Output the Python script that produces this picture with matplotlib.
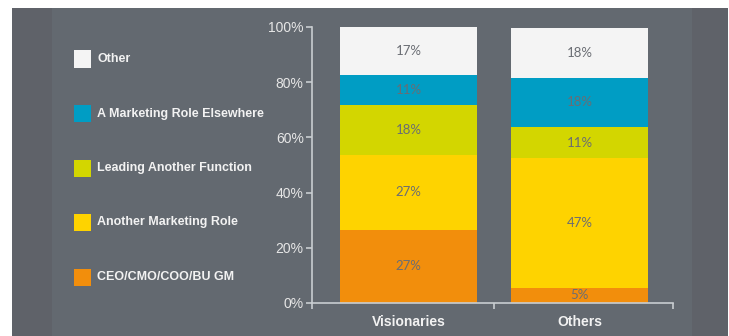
import matplotlib.pyplot as plt
from matplotlib.patches import Rectangle

# data
groups = ['Visionaries', 'Others']
roles = ['CEO/CMO/COO/BU GM', 'Another Marketing Role', 'Leading Another Function',
         'A Marketing Role Elsewhere', 'Other']
ceo = [26.6, 5.5]
another_mkt = [27.1, 47.0]
leading = [18.1, 11.3]
elsewhere = [10.9, 17.7]
other = [17.3, 18.1]
labels = [['27%', '5%'], ['27%', '47%'], ['18%', '11%'], ['11%', '18%'], ['17%', '18%']]
colors = ['#f28e0c', '#fed300', '#d3d600', '#009dc4', '#f4f4f4']
yticks = [0, 20, 40, 60, 80, 100]

W, H = 729, 336
fig = plt.figure(figsize=(W / 100, H / 100), dpi=100, facecolor='white')
plt.rcParams['font.family'] = ['Liberation Sans', 'DejaVu Sans']

# gray panel background
def px_rect(x0, y0, x1, y1, color):
    fig.add_artist(Rectangle((x0 / W, 1 - y1 / H), (x1 - x0) / W, (y1 - y0) / H,
                             transform=fig.transFigure, facecolor=color,
                             edgecolor='none', zorder=0))

px_rect(12, 8, 728, 336, '#5f6269')
px_rect(52, 8, 692, 336, '#636970')

ax = fig.add_axes([312 / W, 1 - 303 / H, (673 - 312) / W, (303 - 27) / H])
ax.patch.set_alpha(0)

series = [ceo, another_mkt, leading, elsewhere, other]
bottom = [0, 0]
x = list(range(len(groups)))
for vals, col, labs in zip(series, colors, labels):
    ax.bar(x, vals, 0.8, bottom=bottom, color=col, edgecolor='none', zorder=2)
    for i in x:
        ax.text(i, bottom[i] + vals[i] / 2, labs[i], ha='center', va='center',
                fontsize=9.5, color='#6a6d73', family=['Lato', 'DejaVu Sans'], zorder=3)
    bottom = [b + v for b, v in zip(bottom, vals)]

# the category slots are not symmetric around the bars in the original
x0, x1 = -0.564, 1.547
ax.set_xlim(x0, x1)
ax.set_ylim(0, 100)
ax.set_yticks(yticks, ['%d%%' % t for t in yticks])
ax.set_xticks([x0, 0.5, x1], ['', '', ''])
ax.set_xticks(x, groups, minor=True)
ax.tick_params(axis='x', which='minor', length=0, pad=9, labelsize=10,
               labelcolor='#f2f2f2')
for t in ax.get_xticklabels(minor=True):
    t.set_fontweight('bold')
ax.tick_params(axis='x', which='major', length=4, color='#c9cdd1', width=1.2)
ax.tick_params(axis='y', length=4, color='#c9cdd1', width=1.2, labelsize=10,
               labelcolor='#e6e6e6', pad=2)
for s in ['top', 'right']:
    ax.spines[s].set_visible(False)
for s in ['left', 'bottom']:
    ax.spines[s].set_color('#c9cdd1')
    ax.spines[s].set_linewidth(1.2)

# legend drawn manually, top entry first
for k, (name, col) in enumerate(zip(roles[::-1], colors[::-1])):
    yc = 59 + k * 54.5
    fig.add_artist(Rectangle((74 / W, 1 - (yc + 8.5) / H), 17 / W, 17 / H,
                             transform=fig.transFigure, facecolor=col,
                             edgecolor='none'))
    fig.text(97 / W, 1 - yc / H, name, ha='left', va='center', fontsize=9,
             fontweight='bold', color='#f2f2f2')

fig.savefig('out.png', dpi=100, facecolor=fig.get_facecolor())
